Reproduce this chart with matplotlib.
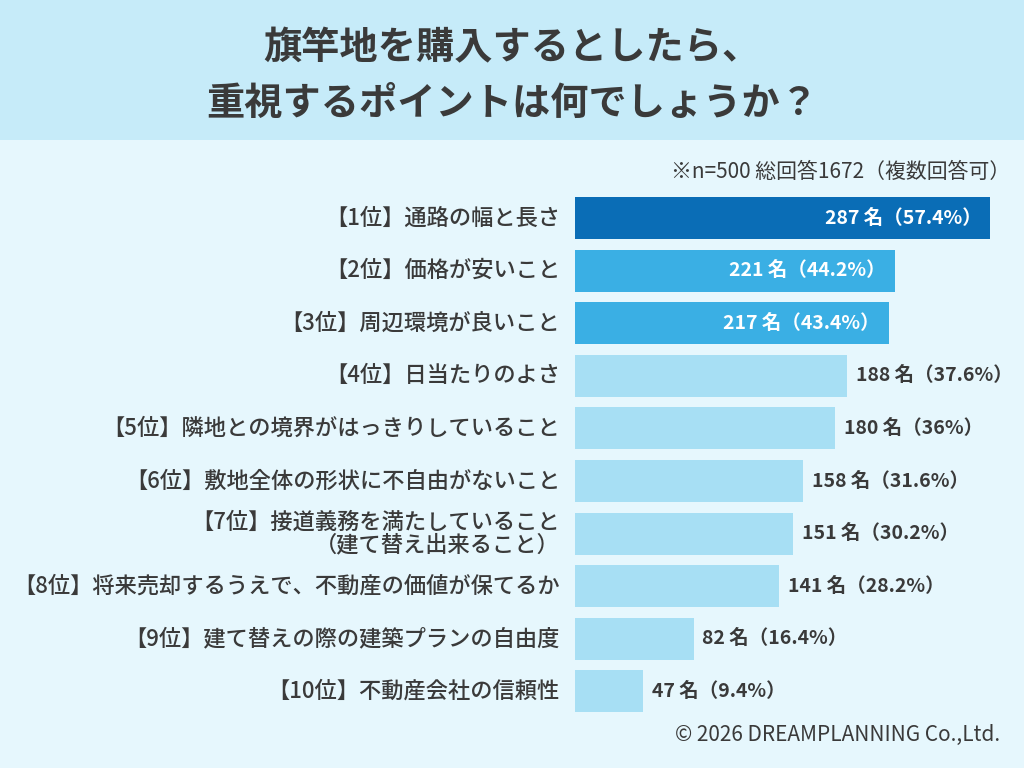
import matplotlib

matplotlib.use("Agg")

import matplotlib.pyplot as plt
from matplotlib.patches import Rectangle

plt.rcParams["font.family"] = ["Noto Sans CJK JP", "DejaVu Sans"]

labels = [
    "【1位】通路の幅と長さ",
    "【2位】価格が安いこと",
    "【3位】周辺環境が良いこと",
    "【4位】日当たりのよさ",
    "【5位】隣地との境界がはっきりしていること",
    "【6位】敷地全体の形状に不自由がないこと",
    "【7位】接道義務を満たしていること\n（建て替え出来ること）",
    "【8位】将来売却するうえで、不動産の価値が保てるか",
    "【9位】建て替えの際の建築プランの自由度",
    "【10位】不動産会社の信頼性",
]
counts = [287, 221, 217, 188, 180, 158, 151, 141, 82, 47]
percents = ["57.4", "44.2", "43.4", "37.6", "36", "31.6", "30.2", "28.2", "16.4", "9.4"]

BG = "#e6f7fd"
BAND = "#c6ebf9"
DARK = "#0a6db6"
MID = "#3aafe4"
LIGHT = "#a7dff4"
TEXT = "#3a3a3a"

fig = plt.figure(figsize=(10.24, 7.68), dpi=100, facecolor=BG)
W, H = 1024, 768

# title band
fig.patches.append(Rectangle((0, 1 - 140 / H), 1, 140 / H, transform=fig.transFigure,
                             facecolor=BAND, edgecolor="none", zorder=0))
fig.text(0.5, 1 - 48 / H, "旗竿地を購入するとしたら、", ha="center", va="center",
         fontsize=27.5, fontweight="bold", color=TEXT)
fig.text(0.5, 1 - 103 / H, "重視するポイントは何でしょうか？", ha="center", va="center",
         fontsize=27.5, fontweight="bold", color=TEXT)

fig.text(1010 / W, 1 - 172 / H, "※n=500 総回答1672（複数回答可）", ha="right", va="center",
         fontsize=15, color=TEXT)
fig.text(1000 / W, 1 - 735 / H, "© 2026 DREAMPLANNING Co.,Ltd.", ha="right", va="center",
         fontsize=15, color=TEXT)

step = 52.6
top = 218 - step / 2
ax = fig.add_axes([575 / W, 1 - (top + 10 * step) / H, (W - 575) / W, 10 * step / H])
ax.set_facecolor("none")
scale = (990 - 575) / 287.0
ax.set_xlim(0, (W - 575) / scale)
ax.set_ylim(9.5, -0.5)

colors = [DARK, MID, MID] + [LIGHT] * 7
ypos = list(range(len(counts)))
ax.barh(ypos, counts, height=0.8, color=colors, edgecolor="none")

for i, (c, p, lab) in enumerate(zip(counts, percents, labels)):
    txt = f"{c} 名（{p}%）"
    if i < 3:
        ax.text(c - 6, i, txt, ha="right", va="center", fontsize=14,
                color="white", fontweight="bold")
    else:
        ax.text(c + 6, i, txt, ha="left", va="center", fontsize=14,
                color=TEXT, fontweight="bold")
    ax.annotate(lab, xy=(0, i), xycoords="data", xytext=(-15, 0),
                textcoords="offset pixels", ha="right", va="center",
                fontsize=16, color=TEXT, fontweight="medium", linespacing=0.95,
                multialignment="right")

ax.axis("off")

fig.savefig("out.png", dpi=100, facecolor=BG)
